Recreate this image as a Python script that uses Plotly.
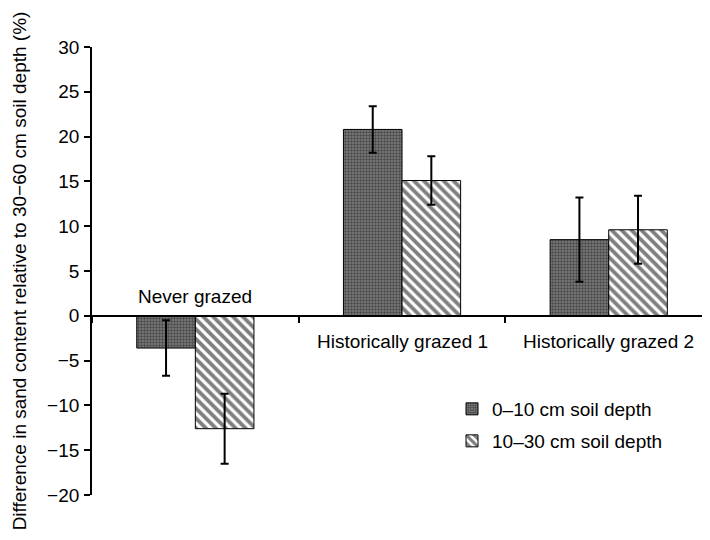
import plotly.graph_objects as go

categories = ["Never grazed", "Historically grazed 1", "Historically grazed 2"]
depth_0_10 = [-3.6, 20.8, 8.5]
err_0_10 = [3.1, 2.6, 4.7]
depth_10_30 = [-12.6, 15.1, 9.6]
err_10_30 = [3.9, 2.7, 3.8]
series_names = ["0\u201310 cm soil depth", "10\u201330 cm soil depth"]
y_ticks = [-20, -15, -10, -5, 0, 5, 10, 15, 20, 25, 30]
y_title = "Difference in sand content relative to 30\u221260 cm soil depth (%)"
label_side = ["above", "below", "below"]

FONT = "Liberation Sans, Arial, Helvetica, sans-serif"
FS = 19
# page body has an 8px margin; figure sized so it fits the 710x540 window
OFF = 8
W, H = 710 - OFF, 540 - OFF
L, T, B, R = 92 - OFF, 47 - OFF, 45, 0
PW, PH = W - L - R, H - T - B

fig = go.Figure()
fig.add_trace(go.Bar(
    x=categories, y=depth_0_10, name=series_names[0],
    marker=dict(color="#6a6a6a", line=dict(color="black", width=1),
                pattern=dict(shape=".", size=3, solidity=0.5,
                             fgcolor="#111111", bgcolor="#7e7e7e")),
    error_y=dict(type="data", array=err_0_10, color="black", thickness=2, width=4),
    legend="legend",
))
fig.add_trace(go.Bar(
    x=categories, y=depth_10_30, name=series_names[1],
    marker=dict(color="white", line=dict(color="black", width=1),
                pattern=dict(shape="\\", size=7, solidity=0.55,
                             fgcolor="black", bgcolor="white")),
    error_y=dict(type="data", array=err_10_30, color="black", thickness=2, width=4),
    legend="legend2",
))

annotations = []
for cat, side in zip(categories, label_side):
    annotations.append(dict(
        x=cat, y=0, xref="x", yref="y", text=cat, showarrow=False,
        xanchor="center", yanchor="middle",
        yshift=19 if side == "above" else -26,
        font=dict(family=FONT, size=FS, color="black"),
    ))

def px_to_paper_x(px):
    return (px - OFF - L) / PW

def px_to_paper_y(py):
    return 1 - (py - OFF - T) / PH

fig.update_layout(
    width=W, height=H, autosize=False,
    margin=dict(l=L, r=R, t=T, b=B, pad=0),
    paper_bgcolor="white", plot_bgcolor="white",
    font=dict(family=FONT, size=FS, color="black"),
    barmode="group", bargap=0.433, bargroupgap=0,
    annotations=annotations,
    showlegend=True,
    legend=dict(x=px_to_paper_x(452), y=px_to_paper_y(409), xanchor="left", yanchor="middle",
                bgcolor="rgba(0,0,0,0)", font=dict(size=FS)),
    legend2=dict(x=px_to_paper_x(452), y=px_to_paper_y(441), xanchor="left", yanchor="middle",
                 bgcolor="rgba(0,0,0,0)", font=dict(size=FS)),
    xaxis=dict(
        type="category", range=[-0.5, 2.49], anchor="free", position=0.4,
        showline=True, linecolor="black", linewidth=1.5,
        ticks="outside", tickson="boundaries", ticklen=6, tickwidth=1.5, tickcolor="black",
        showticklabels=False, showgrid=False, zeroline=False, automargin=False,
    ),
    yaxis=dict(
        range=[-20, 30], domain=[0, 1], tickvals=y_ticks,
        showline=True, linecolor="black", linewidth=1.8,
        ticks="outside", ticklen=6, tickwidth=1.5, tickcolor="black",
        showgrid=False, zeroline=False, ticklabelstandoff=1, automargin=False,
        tickfont=dict(family=FONT, size=FS, color="black"),
        title=dict(text=y_title, font=dict(family=FONT, size=FS, color="black")),
    ),
)

fig.write_html("out.html")
